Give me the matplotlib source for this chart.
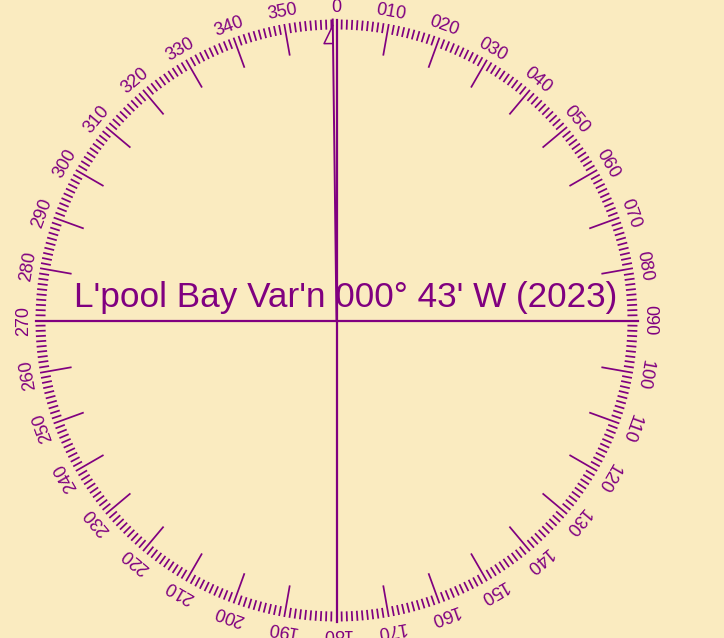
import numpy as np
import matplotlib.pyplot as plt

BG = '#faebc0'
PURPLE = '#800080'

plt.rcParams['font.family'] = ['Liberation Sans', 'DejaVu Sans']

# compass data
degrees = np.arange(0, 360, 1)
label_degrees = np.arange(0, 360, 10)
tick_labels = ['0'] + ['%03d' % d for d in label_degrees[1:]]
variation_deg = -(0 + 43 / 60.0)   # 000° 43' W
title = "L'pool Bay Var'n 000\u00b0 43' W (2023)"

cx, cy = 336.5, 320.5
R = 301

fig = plt.figure(figsize=(7.24, 6.38), dpi=100)
fig.patch.set_facecolor(BG)
ax = fig.add_axes([0, 0, 1, 1])
ax.set_facecolor(BG)
ax.set_xlim(0, 724)
ax.set_ylim(638, 0)
ax.axis('off')


def pt(angle, r):
    a = np.radians(angle)
    return cx + r * np.sin(a), cy - r * np.cos(a)


# degree ticks
for d in degrees:
    r0 = 269 if d % 10 == 0 else 291
    x0, y0 = pt(d, r0)
    x1, y1 = pt(d, R)
    ax.plot([x0, x1], [y0, y1], color=PURPLE, lw=1.25, solid_capstyle='butt')

# labels
for d, lab in zip(label_degrees, tick_labels):
    x, y = pt(d, 313)
    ax.text(x, y, lab, color=PURPLE, fontsize=13, rotation=-d,
            ha='center', va='center', rotation_mode='anchor')

# cross lines
ax.plot([cx - R, cx + R], [cy, cy], color=PURPLE, lw=1.6)
ax.plot([cx, cx], [cy - R, cy + R], color=PURPLE, lw=1.6)

# magnetic needle with half arrow head
xt, yt = pt(variation_deg, R)
ax.plot([cx, xt], [cy, yt], color=PURPLE, lw=1.4)
a = np.radians(variation_deg)
px, py = -np.cos(a), -np.sin(a)
tip = pt(variation_deg, 295)
b1 = pt(variation_deg, 277)
b2 = (b1[0] + 9 * px, b1[1] + 9 * py)
ax.plot([tip[0], b2[0], b1[0]], [tip[1], b2[1], b1[1]], color=PURPLE, lw=1.1)

ax.text(346, 307, title, color=PURPLE, fontsize=25.3, ha='center', va='baseline')

fig.savefig('out.png', dpi=100, facecolor=BG)
